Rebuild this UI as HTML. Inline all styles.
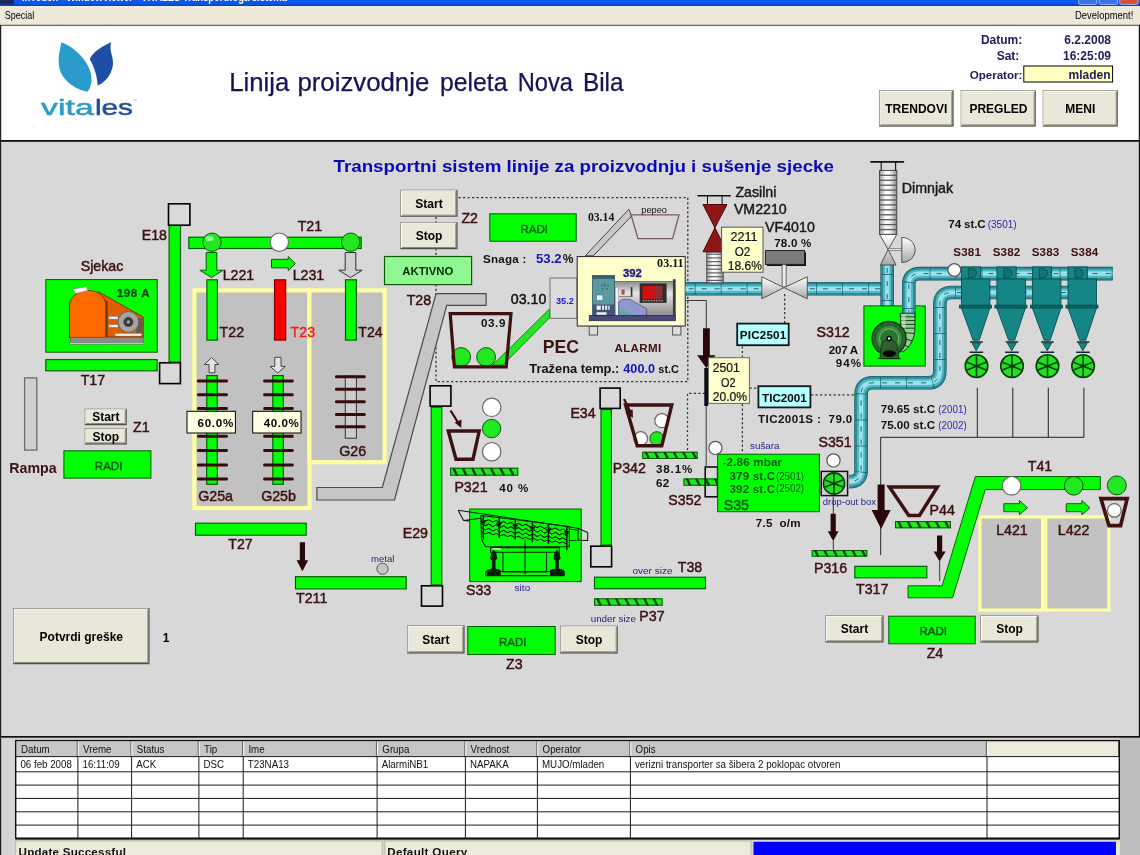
<!DOCTYPE html>
<html><head><meta charset="utf-8"><title>SCADA</title>
<style>
html,body{margin:0;padding:0;background:#d8d8d8;overflow:hidden}
svg{display:block;will-change:transform;font-family:"Liberation Sans",sans-serif}
</style></head><body>
<svg width="1140" height="855" viewBox="0 0 1140 855">
<defs>
<pattern id="hatch" width="7.2" height="8" patternUnits="userSpaceOnUse">
<rect width="7.2" height="8" fill="#22ee22"/>
<path d="M0 0L3.4 8M7.2 0L10.6 8M-7.2 0L-3.8 8" stroke="#0b4a0b" stroke-width="1.7"/>
</pattern>
<linearGradient id="tb" x1="0" y1="0" x2="0" y2="1"><stop offset="0" stop-color="#0a5cf0"/><stop offset="0.6" stop-color="#0a54e4"/><stop offset="1" stop-color="#0a3cc0"/></linearGradient>
<linearGradient id="pipeH" x1="0" y1="0" x2="0" y2="1"><stop offset="0" stop-color="#2a8e98"/><stop offset="0.35" stop-color="#a8ecf4"/><stop offset="0.6" stop-color="#7ad4de"/><stop offset="1" stop-color="#1f7f8a"/></linearGradient>
<linearGradient id="pipeV" x1="0" y1="0" x2="1" y2="0"><stop offset="0" stop-color="#2a8e98"/><stop offset="0.35" stop-color="#a8ecf4"/><stop offset="0.6" stop-color="#7ad4de"/><stop offset="1" stop-color="#1f7f8a"/></linearGradient>
<linearGradient id="corrV" x1="0" y1="0" x2="1" y2="0"><stop offset="0" stop-color="#9a9a9a"/><stop offset="0.35" stop-color="#fff"/><stop offset="0.6" stop-color="#f4f4f4"/><stop offset="1" stop-color="#8a8a8a"/></linearGradient>
<linearGradient id="cyl" x1="0" y1="0" x2="0" y2="1"><stop offset="0" stop-color="#8a8a8a"/><stop offset="0.35" stop-color="#e6e6e6"/><stop offset="1" stop-color="#8c8c8c"/></linearGradient>
<linearGradient id="valveL" x1="0" y1="0" x2="0" y2="1"><stop offset="0" stop-color="#fff"/><stop offset="1" stop-color="#a8a8a8"/></linearGradient>
</defs>

<rect x="0.0" y="0.0" width="1140.0" height="855.0" fill="#d8d8d8" />
<rect x="0.0" y="0.0" width="1140.0" height="6.3" fill="url(#tb)" />
<rect x="0.0" y="0.0" width="14.0" height="4.5" fill="#1a2a58" />
<g clip-path="inset(0)"><text x="22" y="1.4" font-size="12" font-weight="bold" fill="#fff" textLength="265" lengthAdjust="spacingAndGlyphs">InTouch - WindowViewer - VITALES Transportnoga sistema</text></g>
<path d="M1078.6 -1V3Q1078.6 4.4 1080.2 4.4H1095.2Q1096.8 4.4 1096.8 3V-1Z" fill="#3f6ee6" stroke="#9cc0ff" stroke-width="0.9"/>
<path d="M1099.2 -1V3Q1099.2 4.4 1100.8 4.4H1115.8Q1117.4 4.4 1117.4 3V-1Z" fill="#3f6ee6" stroke="#9cc0ff" stroke-width="0.9"/>
<path d="M1119.8 -1V3Q1119.8 4.4 1121.4 4.4H1136.4Q1138.0 4.4 1138.0 3V-1Z" fill="#d8502e" stroke="#9cc0ff" stroke-width="0.9"/>
<rect x="0.0" y="6.3" width="1140.0" height="18.7" fill="#ece9d8" />
<rect x="0.0" y="6.3" width="1140.0" height="1.0" fill="#f8f6ea" />
<text x="4.7" y="18.7" font-size="10.6" fill="#000" textLength="29.6" lengthAdjust="spacingAndGlyphs" >Special</text>
<text x="1133.3" y="18.7" font-size="10.6" fill="#000" text-anchor="end" textLength="58.3" lengthAdjust="spacingAndGlyphs" >Development!</text>
<rect x="0.0" y="25.0" width="1140.0" height="116.0" fill="#ffffff" />
<path d="M0 25.3H1140" stroke="#404040" stroke-width="1"/>
<rect x="0.0" y="140.0" width="1140.0" height="1.8" fill="#101010" />
<rect x="0.0" y="25.0" width="1.2" height="830.0" fill="#202020" />
<rect x="1138.8" y="25.0" width="1.2" height="713.0" fill="#101010" />
<path d="M61.3 42.3C60.5 49 57 58 59.6 69C63 81 76 90 87.5 91.5C93 86 92.5 74 88 66C83 56 72 46 61.3 42.3Z" fill="#2a9ccc"/>
<path d="M111.3 42C104 46 94 50 89.6 59.2C93 64 97 74 97.8 85.6C106 82 112 74 113 64C113.5 56 108.5 50 111.3 42Z" fill="#1d4ea6"/>
<text x="41.1" y="114.9" font-size="22.5" fill="#2a9cc8" textLength="52.6" lengthAdjust="spacingAndGlyphs" stroke="#2a9cc8" stroke-width="0.5" >vita</text>
<text x="94.9" y="114.9" font-size="22.5" fill="#1f4e9c" textLength="38.0" lengthAdjust="spacingAndGlyphs" stroke="#1f4e9c" stroke-width="0.5" >les</text>
<path d="M134 99l3 2m0 -2l-3 2" stroke="#bbb" stroke-width="0.6"/>
<text x="229.2" y="90.5" font-size="25.4" fill="#14145a" textLength="60.1" lengthAdjust="spacingAndGlyphs" stroke="#14145a" stroke-width="0.25" >Linija</text>
<text x="297.4" y="90.5" font-size="25.4" fill="#14145a" textLength="131.9" lengthAdjust="spacingAndGlyphs" stroke="#14145a" stroke-width="0.25" >proizvodnje</text>
<text x="440.0" y="90.5" font-size="25.4" fill="#14145a" textLength="67.4" lengthAdjust="spacingAndGlyphs" stroke="#14145a" stroke-width="0.25" >peleta</text>
<text x="517.7" y="90.5" font-size="25.4" fill="#14145a" textLength="55.3" lengthAdjust="spacingAndGlyphs" stroke="#14145a" stroke-width="0.25" >Nova</text>
<text x="582.9" y="90.5" font-size="25.4" fill="#14145a" textLength="40.6" lengthAdjust="spacingAndGlyphs" stroke="#14145a" stroke-width="0.25" >Bila</text>
<text x="1022.3" y="44.0" font-size="12" fill="#1c1c5c" font-weight="bold" text-anchor="end" >Datum:</text>
<text x="1111.0" y="44.0" font-size="12" fill="#1c1c5c" font-weight="bold" text-anchor="end" >6.2.2008</text>
<text x="1019.3" y="59.6" font-size="12" fill="#1c1c5c" font-weight="bold" text-anchor="end" >Sat:</text>
<text x="1111.0" y="59.6" font-size="12" fill="#1c1c5c" font-weight="bold" text-anchor="end" >16:25:09</text>
<text x="1022.3" y="79.2" font-size="11.6" fill="#1c1c5c" font-weight="bold" text-anchor="end" textLength="52.5" lengthAdjust="spacing" >Operator:</text>
<rect x="1023.8" y="66.0" width="88.8" height="16.0" fill="#ffffc0" stroke="#000" stroke-width="1" />
<text x="1110.5" y="79.4" font-size="12" fill="#1c1c5c" font-weight="bold" text-anchor="end" >mladen</text>
<rect x="879.3" y="90.6" width="74.0" height="35.8" fill="#e8e7d8" />
<path d="M879.3 125.9H952.8V90.6" fill="none" stroke="#404040" stroke-width="1"/>
<path d="M880.3 124.9H951.8V91.6" fill="none" stroke="#8a8a80" stroke-width="1"/>
<path d="M879.8 125.4V91.1H952.3" fill="none" stroke="#ffffff" stroke-width="1"/>
<rect x="879.3" y="90.6" width="74.0" height="35.8" fill="none" stroke="#707068" stroke-width="0.6"/>
<text x="916.3" y="112.8" font-size="12" fill="#000" font-weight="bold" text-anchor="middle" >TRENDOVI</text>
<rect x="961.0" y="90.6" width="74.7" height="35.8" fill="#e8e7d8" />
<path d="M961.0 125.9H1035.2V90.6" fill="none" stroke="#404040" stroke-width="1"/>
<path d="M962.0 124.9H1034.2V91.6" fill="none" stroke="#8a8a80" stroke-width="1"/>
<path d="M961.5 125.4V91.1H1034.7" fill="none" stroke="#ffffff" stroke-width="1"/>
<rect x="961.0" y="90.6" width="74.7" height="35.8" fill="none" stroke="#707068" stroke-width="0.6"/>
<text x="998.4" y="112.8" font-size="12" fill="#000" font-weight="bold" text-anchor="middle" >PREGLED</text>
<rect x="1043.0" y="90.6" width="74.7" height="35.8" fill="#e8e7d8" />
<path d="M1043.0 125.9H1117.2V90.6" fill="none" stroke="#404040" stroke-width="1"/>
<path d="M1044.0 124.9H1116.2V91.6" fill="none" stroke="#8a8a80" stroke-width="1"/>
<path d="M1043.5 125.4V91.1H1116.7" fill="none" stroke="#ffffff" stroke-width="1"/>
<rect x="1043.0" y="90.6" width="74.7" height="35.8" fill="none" stroke="#707068" stroke-width="0.6"/>
<text x="1080.3" y="112.8" font-size="12" fill="#000" font-weight="bold" text-anchor="middle" >MENI</text>
<text x="333.5" y="171.8" font-size="17.3" fill="#0a0ab4" font-weight="bold" textLength="500.5" lengthAdjust="spacingAndGlyphs" >Transportni sistem linije za proizvodnju i sušenje sjecke</text>
<rect x="0.0" y="736.0" width="1140.0" height="2.0" fill="#101010" />
<text x="80.7" y="271.2" font-size="14.2" fill="#3e1010" stroke="#3e1010" stroke-width="0.45" >Sjekac</text>
<rect x="45.8" y="279.6" width="111.4" height="72.6" fill="#00ff00" stroke="#005c00" stroke-width="1" />
<g stroke="#5a2a00" stroke-width="0.8">
<path d="M98 291.5L143.2 317V337H104Z" fill="#e05e00"/>
<path d="M69.5 337.4V306C69.5 297 78 290.4 88 290.4C98 290.4 106 297 106 306V337.4Z" fill="#ff6a00"/>
</g>
<rect x="105.6" y="301.0" width="2.0" height="36.0" fill="#6a3a10" />
<path d="M72.3 289.2L86.6 286.6L87.8 290.6L76 293.6Z" fill="#f4f4f4" stroke="#777" stroke-width="0.5"/>
<rect x="108.8" y="316.3" width="9.2" height="2.8" fill="#f0f0f0" stroke="#777" stroke-width="0.4" />
<rect x="108.8" y="324.7" width="9.2" height="2.6" fill="#f0f0f0" stroke="#777" stroke-width="0.4" />
<rect x="136.0" y="318.0" width="6.6" height="15.0" fill="#6a5a4a" />
<circle cx="128.4" cy="321.9" r="10.4" fill="#a4a4a4" stroke="#555" stroke-width="0.8"/>
<circle cx="128.4" cy="321.9" r="4.6" fill="#3c3c3c" stroke="#222" stroke-width="0.5"/>
<circle cx="128.4" cy="321.9" r="1.6" fill="#aaa" stroke="none" stroke-width="0"/>
<rect x="115.1" y="333.6" width="26.2" height="2.4" fill="#f4f4f4" stroke="#888" stroke-width="0.4" />
<rect x="70.2" y="337.4" width="73.0" height="4.9" fill="#8c8c8c" stroke="#555" stroke-width="0.5" />
<rect x="69.5" y="342.3" width="74.4" height="2.0" fill="#c4c4c4" stroke="#555" stroke-width="0.4" />
<text x="116.9" y="296.9" font-size="11.6" fill="#064a06" font-weight="bold" textLength="32.6" lengthAdjust="spacing" stroke="#064a06" stroke-width="0.3" >198 A</text>
<rect x="45.8" y="359.6" width="111.3" height="11.2" fill="#00ff00" stroke="#005c00" stroke-width="1.15" />
<text x="80.7" y="385.4" font-size="14.2" fill="#3e1010" stroke="#3e1010" stroke-width="0.45" >T17</text>
<rect x="169.1" y="225.5" width="11.4" height="136.5" fill="#00ff00" stroke="#005c00" stroke-width="1.15" />
<rect x="168.5" y="203.8" width="21.4" height="21.4" fill="#d9d9d9" stroke="#000" stroke-width="1.6" />
<rect x="159.6" y="362.8" width="20.8" height="20.8" fill="#d9d9d9" stroke="#000" stroke-width="1.6" />
<text x="141.7" y="240.0" font-size="14.2" fill="#3e1010" stroke="#3e1010" stroke-width="0.45" >E18</text>
<rect x="188.8" y="237.2" width="172.4" height="11.3" fill="#00ff00" stroke="#005c00" stroke-width="1.15" />
<text x="297.7" y="230.6" font-size="14.2" fill="#3e1010" stroke="#3e1010" stroke-width="0.45" >T21</text>
<circle cx="212.0" cy="242.2" r="9.2" fill="#22e822" stroke="#0a5a0a" stroke-width="1"/>
<ellipse cx="209.5" cy="238.5" rx="4" ry="2.6" fill="#b8ffb8" opacity="0.8"/>
<circle cx="279.3" cy="242.2" r="9.2" fill="#ffffff" stroke="#6a6a6a" stroke-width="1.2"/>
<circle cx="350.7" cy="242.2" r="9.2" fill="#22e822" stroke="#0a5a0a" stroke-width="1"/>
<path d="M206.2 252.5H216.8V270.2H223.2L211.5 277.6L199.8 270.2H206.2Z" fill="#00ff00" stroke="#0a5a0a" stroke-width="1"/>
<path d="M271.5 259.3H288.2V256.6L295.4 263.6L288.2 270.6V267.9H271.5Z" fill="#00ff00" stroke="#0a5a0a" stroke-width="1"/>
<path d="M345.2 252.5H355.8V270.2H362.2L350.5 277.6L338.8 270.2H345.2Z" fill="#d0d0d0" stroke="#333" stroke-width="1"/>
<text x="222.7" y="279.8" font-size="14.2" fill="#3e1010" stroke="#3e1010" stroke-width="0.45" >L221</text>
<text x="292.7" y="279.8" font-size="14.2" fill="#3e1010" stroke="#3e1010" stroke-width="0.45" >L231</text>
<rect x="194.4" y="290.4" width="115.2" height="217.7" fill="#c1c1c1" stroke="#ffffa0" stroke-width="4.2" />
<rect x="309.4" y="290.4" width="75.2" height="171.8" fill="#c1c1c1" stroke="#ffffa0" stroke-width="4.2" />
<rect x="206.9" y="279.8" width="10.5" height="60.3" fill="#00ff00" stroke="#005c00" stroke-width="1.15" />
<rect x="274.5" y="279.8" width="11.2" height="60.3" fill="#ff0000" stroke="#7a0000" stroke-width="1.15" />
<rect x="345.5" y="279.8" width="10.9" height="60.3" fill="#00ff00" stroke="#005c00" stroke-width="1.15" />
<text x="219.6" y="337.0" font-size="14.2" fill="#3e1010" stroke="#3e1010" stroke-width="0.45" >T22</text>
<text x="290.6" y="337.0" font-size="14.2" fill="#ff1a1a" stroke="#ff1a1a" stroke-width="0.45" >T23</text>
<text x="358.3" y="337.0" font-size="14.2" fill="#3e1010" stroke="#3e1010" stroke-width="0.45" >T24</text>
<path d="M211.6 357.5L218.8 364.5H214.9V372.8H209.1V364.5H204.4Z" fill="#e4e4e4" stroke="#333" stroke-width="0.9"/>
<path d="M277.7 373L285.4 366.4H281V357.3H274.8V366.4H270Z" fill="#e4e4e4" stroke="#333" stroke-width="0.9"/>
<rect x="206.7" y="375.6" width="10.6" height="108.7" fill="#00ff00" stroke="#005c00" stroke-width="1.15" />
<rect x="197.0" y="379.4" width="30.9" height="3.0" fill="#3a0a0a" rx="1.2"/>
<rect x="197.0" y="393.3" width="30.9" height="3.0" fill="#3a0a0a" rx="1.2"/>
<rect x="197.0" y="407.0" width="30.9" height="3.0" fill="#3a0a0a" rx="1.2"/>
<rect x="197.0" y="434.8" width="30.9" height="3.0" fill="#3a0a0a" rx="1.2"/>
<rect x="197.0" y="448.9" width="30.9" height="3.0" fill="#3a0a0a" rx="1.2"/>
<rect x="197.0" y="463.4" width="30.9" height="3.0" fill="#3a0a0a" rx="1.2"/>
<rect x="197.0" y="477.5" width="30.9" height="3.0" fill="#3a0a0a" rx="1.2"/>
<rect x="272.8" y="375.6" width="10.5" height="108.7" fill="#00ff00" stroke="#005c00" stroke-width="1.15" />
<rect x="263.2" y="379.4" width="30.5" height="3.0" fill="#3a0a0a" rx="1.2"/>
<rect x="263.2" y="393.3" width="30.5" height="3.0" fill="#3a0a0a" rx="1.2"/>
<rect x="263.2" y="407.0" width="30.5" height="3.0" fill="#3a0a0a" rx="1.2"/>
<rect x="263.2" y="434.8" width="30.5" height="3.0" fill="#3a0a0a" rx="1.2"/>
<rect x="263.2" y="448.9" width="30.5" height="3.0" fill="#3a0a0a" rx="1.2"/>
<rect x="263.2" y="463.4" width="30.5" height="3.0" fill="#3a0a0a" rx="1.2"/>
<rect x="263.2" y="477.5" width="30.5" height="3.0" fill="#3a0a0a" rx="1.2"/>
<rect x="345.3" y="376.2" width="11.1" height="62.0" fill="#cdcdcd" stroke="#333" stroke-width="1" />
<rect x="335.0" y="375.2" width="30.7" height="3.0" fill="#3a0a0a" rx="1.2"/>
<rect x="335.0" y="387.7" width="30.7" height="3.0" fill="#3a0a0a" rx="1.2"/>
<rect x="335.0" y="400.3" width="30.7" height="3.0" fill="#3a0a0a" rx="1.2"/>
<rect x="335.0" y="412.9" width="30.7" height="3.0" fill="#3a0a0a" rx="1.2"/>
<rect x="335.0" y="425.3" width="30.7" height="3.0" fill="#3a0a0a" rx="1.2"/>
<rect x="187.0" y="411.3" width="48.4" height="21.7" fill="#ffffe1" stroke="#000" stroke-width="1" />
<text x="197.5" y="427.0" font-size="11.6" fill="#000" font-weight="bold" textLength="35.8" lengthAdjust="spacing" >60.0%</text>
<rect x="252.7" y="411.3" width="48.3" height="21.7" fill="#ffffe1" stroke="#000" stroke-width="1" />
<text x="263.8" y="427.0" font-size="11.6" fill="#000" font-weight="bold" textLength="35.1" lengthAdjust="spacing" >40.0%</text>
<text x="198.3" y="500.9" font-size="14.2" fill="#3e1010" stroke="#3e1010" stroke-width="0.45" >G25a</text>
<text x="261.2" y="500.9" font-size="14.2" fill="#3e1010" stroke="#3e1010" stroke-width="0.45" >G25b</text>
<text x="339.3" y="456.1" font-size="14.2" fill="#3e1010" stroke="#3e1010" stroke-width="0.45" >G26</text>
<rect x="24.6" y="377.9" width="12.2" height="72.2" fill="#d0d0d0" stroke="#6c6c6c" stroke-width="1.3" />
<text x="9.3" y="472.7" font-size="14.2" fill="#3e1010" font-weight="bold" >Rampa</text>
<rect x="85.0" y="409.0" width="41.7" height="16.0" fill="#e8e7d8" />
<path d="M85.0 424.5H126.2V409.0" fill="none" stroke="#404040" stroke-width="1"/>
<path d="M86.0 423.5H125.2V410.0" fill="none" stroke="#8a8a80" stroke-width="1"/>
<path d="M85.5 424.0V409.5H125.7" fill="none" stroke="#ffffff" stroke-width="1"/>
<rect x="85.0" y="409.0" width="41.7" height="16.0" fill="none" stroke="#707068" stroke-width="0.6"/>
<text x="105.8" y="421.3" font-size="12" fill="#000" font-weight="bold" text-anchor="middle" >Start</text>
<rect x="85.0" y="428.3" width="41.7" height="16.0" fill="#e8e7d8" />
<path d="M85.0 443.8H126.2V428.3" fill="none" stroke="#404040" stroke-width="1"/>
<path d="M86.0 442.8H125.2V429.3" fill="none" stroke="#8a8a80" stroke-width="1"/>
<path d="M85.5 443.3V428.8H125.7" fill="none" stroke="#ffffff" stroke-width="1"/>
<rect x="85.0" y="428.3" width="41.7" height="16.0" fill="none" stroke="#707068" stroke-width="0.6"/>
<text x="105.8" y="440.6" font-size="12" fill="#000" font-weight="bold" text-anchor="middle" >Stop</text>
<text x="133.0" y="431.5" font-size="14.2" fill="#3e1010" stroke="#3e1010" stroke-width="0.45" >Z1</text>
<rect x="63.9" y="450.8" width="87.0" height="27.3" fill="#00ff00" stroke="#005c00" stroke-width="1" />
<text x="108.6" y="469.5" font-size="11.8" fill="#0a5a0a" text-anchor="middle" textLength="27.6" lengthAdjust="spacingAndGlyphs" stroke="#0a5a0a" stroke-width="0.45" >RADI</text>
<rect x="195.5" y="523.2" width="110.7" height="12.0" fill="#00ff00" stroke="#005c00" stroke-width="1.15" />
<text x="228.3" y="549.3" font-size="14.2" fill="#3e1010" stroke="#3e1010" stroke-width="0.45" >T27</text>
<path d="M299.8 542.3H305.0V560.3H308.2L302.4 571.3L296.6 560.3H299.8Z" fill="#2a0808"/>
<rect x="295.5" y="576.7" width="110.7" height="12.2" fill="#00ff00" stroke="#005c00" stroke-width="1.15" />
<text x="296.0" y="603.3" font-size="14.2" fill="#3e1010" stroke="#3e1010" stroke-width="0.45" >T211</text>
<text x="370.9" y="561.8" font-size="9.6" fill="#26268e" >metal</text>
<circle cx="382.5" cy="568.8" r="5.6" fill="#c4c4c4" stroke="#555" stroke-width="1"/>
<rect x="13.3" y="608.3" width="136.0" height="55.7" fill="#e8e7d8" />
<path d="M13.3 663.5H148.8V608.3" fill="none" stroke="#404040" stroke-width="1"/>
<path d="M14.3 662.5H147.8V609.3" fill="none" stroke="#8a8a80" stroke-width="1"/>
<path d="M13.8 663.0V608.8H148.3" fill="none" stroke="#ffffff" stroke-width="1"/>
<rect x="13.3" y="608.3" width="136.0" height="55.7" fill="none" stroke="#707068" stroke-width="0.6"/>
<text x="81.3" y="640.5" font-size="12" fill="#000" font-weight="bold" text-anchor="middle" >Potvrdi greške</text>
<text x="162.7" y="642.3" font-size="12" fill="#000" font-weight="bold" >1</text>
<path d="M436 197.5H687.8V381.7H436Z" stroke="#303030" stroke-width="1.25" stroke-dasharray="2.2 2.3" fill="none"/>
<path d="M705 393.4H687.5V452" stroke="#303030" stroke-width="1.25" stroke-dasharray="2.2 2.3" fill="none"/>
<path d="M742.4 404V453" stroke="#303030" stroke-width="1.25" stroke-dasharray="2.2 2.3" fill="none"/>
<path d="M742.4 346.4V357" stroke="#303030" stroke-width="1.25" stroke-dasharray="2.2 2.3" fill="none"/>
<path d="M749.6 388H758" stroke="#303030" stroke-width="1.25" stroke-dasharray="2.2 2.3" fill="none"/>
<path d="M811 394.8H855" stroke="#303030" stroke-width="1.25" stroke-dasharray="2.2 2.3" fill="none"/>
<path d="M784.7 294V323" stroke="#303030" stroke-width="1.25" stroke-dasharray="2.2 2.3" fill="none"/>
<rect x="400.7" y="190.0" width="56.6" height="26.7" fill="#e8e7d8" />
<path d="M400.7 216.2H456.8V190.0" fill="none" stroke="#404040" stroke-width="1"/>
<path d="M401.7 215.2H455.8V191.0" fill="none" stroke="#8a8a80" stroke-width="1"/>
<path d="M401.2 215.7V190.5H456.3" fill="none" stroke="#ffffff" stroke-width="1"/>
<rect x="400.7" y="190.0" width="56.6" height="26.7" fill="none" stroke="#707068" stroke-width="0.6"/>
<text x="429.0" y="207.7" font-size="12" fill="#000" font-weight="bold" text-anchor="middle" >Start</text>
<rect x="400.7" y="222.3" width="56.6" height="26.7" fill="#e8e7d8" />
<path d="M400.7 248.5H456.8V222.3" fill="none" stroke="#404040" stroke-width="1"/>
<path d="M401.7 247.5H455.8V223.3" fill="none" stroke="#8a8a80" stroke-width="1"/>
<path d="M401.2 248.0V222.8H456.3" fill="none" stroke="#ffffff" stroke-width="1"/>
<rect x="400.7" y="222.3" width="56.6" height="26.7" fill="none" stroke="#707068" stroke-width="0.6"/>
<text x="429.0" y="240.0" font-size="12" fill="#000" font-weight="bold" text-anchor="middle" >Stop</text>
<text x="461.4" y="223.2" font-size="14.2" fill="#3e1010" stroke="#3e1010" stroke-width="0.45" >Z2</text>
<rect x="489.8" y="213.8" width="86.4" height="27.4" fill="#00ff00" stroke="#005c00" stroke-width="1" />
<text x="534.2" y="232.5" font-size="11.8" fill="#0a5a0a" text-anchor="middle" textLength="27.6" lengthAdjust="spacingAndGlyphs" stroke="#0a5a0a" stroke-width="0.45" >RADI</text>
<rect x="384.5" y="256.5" width="87.1" height="28.1" fill="#90f890" stroke="#0a5a0a" stroke-width="1.2" />
<text x="427.8" y="274.8" font-size="11.4" fill="#062a06" font-weight="bold" text-anchor="middle" textLength="51.0" lengthAdjust="spacingAndGlyphs" >AKTIVNO</text>
<text x="483.0" y="263.0" font-size="11.6" fill="#111" font-weight="bold" textLength="43.4" lengthAdjust="spacing" >Snaga :</text>
<text x="536.0" y="263.0" font-size="13" fill="#1414b4" font-weight="bold" textLength="25.7" lengthAdjust="spacingAndGlyphs" >53.2</text>
<text x="562.7" y="263.0" font-size="12" fill="#111" font-weight="bold" >%</text>
<path d="M316.9 487.5H382.3L436.1 293.7H486.1V305.4H446.7L394.5 500H316.9Z" fill="#c6c6c6" stroke="#4a4a4a" stroke-width="1.2" stroke-linejoin="miter"/>
<text x="406.7" y="304.7" font-size="14.2" fill="#3e1010" stroke="#3e1010" stroke-width="0.45" >T28</text>
<path d="M492.3 365.2H502.8L549.6 317.7V308.9Z" fill="#22e822" stroke="#0a6a0a" stroke-width="0.8"/>
<circle cx="461.2" cy="357.0" r="9.4" fill="#22e822" stroke="#0a5a0a" stroke-width="1"/>
<circle cx="486.1" cy="357.0" r="9.4" fill="#22e822" stroke="#0a5a0a" stroke-width="1"/>
<path d="M450.2 313.6L454.4 366.8H506.2L511.0 313.6Z" fill="none" stroke="#3e1010" stroke-width="3.2" stroke-linejoin="miter"/>
<text x="480.9" y="326.6" font-size="11.6" fill="#111" font-weight="bold" textLength="24.5" lengthAdjust="spacing" >03.9</text>
<text x="510.8" y="303.8" font-size="14.2" fill="#111" stroke="#111" stroke-width="0.45" >03.10</text>
<rect x="550.0" y="278.0" width="27.0" height="40.3" fill="#dcdcdc" stroke="#707070" stroke-width="1" />
<text x="556.0" y="304.0" font-size="9.4" fill="#2222c8" font-weight="bold" textLength="17.8" lengthAdjust="spacingAndGlyphs" >35.2</text>
<path d="M628.8 209.3L585.3 255.8H593.3L631.6 216Z" fill="#c8c8c8" stroke="#444" stroke-width="1"/>
<path d="M631 214.8L638 238.7H672.6L679 214.8Z" fill="none" stroke="#7a5a5a" stroke-width="1.3"/>
<text x="641.3" y="212.6" font-size="9.6" fill="#111" textLength="25.7" lengthAdjust="spacingAndGlyphs" >pepeo</text>
<text x="587.9" y="221.0" font-size="11.8" fill="#111" font-weight="bold" font-family="Liberation Serif" textLength="26.4" lengthAdjust="spacingAndGlyphs" >03.14</text>
<rect x="577.2" y="256.6" width="108.0" height="69.4" fill="#ffffcc" stroke="#222" stroke-width="1" />
<rect x="589.2" y="326.5" width="8.3" height="8.5" fill="#dcdcdc" stroke="#555" stroke-width="1" />
<rect x="672.6" y="326.5" width="8.3" height="8.5" fill="#dcdcdc" stroke="#555" stroke-width="1" />
<text x="657.1" y="266.8" font-size="11.8" fill="#111" font-weight="bold" font-family="Liberation Serif" textLength="26.5" lengthAdjust="spacingAndGlyphs" >03.11</text>
<text x="622.9" y="276.6" font-size="11.7" fill="#20207c" font-weight="bold" textLength="18.9" lengthAdjust="spacingAndGlyphs" stroke="#20207c" stroke-width="0.35" >392</text>
<rect x="614.5" y="281.3" width="60.5" height="34.2" fill="url(#cyl)" stroke="#555" stroke-width="0.6" />
<rect x="672.9" y="279.2" width="2.7" height="36.4" fill="#3c3c3c" />
<rect x="592.4" y="275.5" width="22.1" height="40.0" fill="#5a98a2" stroke="#2a4a5a" stroke-width="0.7" />
<rect x="592.4" y="275.5" width="22.1" height="3.3" fill="#33606a" />
<rect x="596.6" y="295.0" width="6.3" height="5.3" fill="#e4f4f6" stroke="#3a6a74" stroke-width="0.5" />
<path d="M602 285v1.2M605 285v1.2M608 285v1.2M602.5 288v1.4M607 288v1.4M604.6 282.6v1.2" stroke="#1e4854" stroke-width="1"/>
<rect x="592.8" y="304.5" width="21.4" height="11.0" fill="#45527a" />
<rect x="596.6" y="305.6" width="4.2" height="4.2" fill="#f2f2f2" />
<rect x="602.0" y="305.6" width="2.0" height="4.2" fill="#e8e8e8" />
<rect x="605.0" y="305.6" width="2.2" height="4.2" fill="#e8e8e8" />
<rect x="608.2" y="305.6" width="1.6" height="4.2" fill="#d8d8d8" />
<rect x="596.6" y="312.2" width="10.0" height="2.6" fill="#ececec" />
<rect x="615.5" y="287.1" width="3.2" height="28.4" fill="#f0f0f0" stroke="#777" stroke-width="0.4" />
<rect x="621.5" y="289.5" width="3.1" height="5.1" fill="#a85050" />
<rect x="630.8" y="287.0" width="1.6" height="10.0" fill="#333" />
<path d="M619 296.6H632.5" stroke="#666" stroke-width="0.8"/>
<path d="M618.7 315.5V301.8L622.4 299.2H629.7L646.6 308.7V315.5Z" fill="#9098d0" stroke="#3a3a6a" stroke-width="0.6"/>
<path d="M618.9 315.3V307.6L634 315.3Z" fill="#62a8a8"/>
<rect x="639.7" y="283.4" width="26.9" height="19.5" fill="#2c2c2c" />
<rect x="642.4" y="286.0" width="13.6" height="13.2" fill="#cc1212" />
<rect x="656.0" y="286.0" width="6.4" height="13.2" fill="#8e3030" />
<path d="M643 300.8H663" stroke="#d8b0b0" stroke-width="1" stroke-dasharray="1.6 1"/>
<rect x="589.2" y="315.5" width="86.4" height="5.3" fill="#48487a" stroke="#1a1a2a" stroke-width="0.6" />
<text x="542.7" y="353.3" font-size="19" fill="#3e1010" font-weight="bold" textLength="36.3" lengthAdjust="spacingAndGlyphs" >PEC</text>
<text x="614.5" y="351.7" font-size="11.6" fill="#3e1010" font-weight="bold" textLength="46.7" lengthAdjust="spacing" >ALARMI</text>
<text x="529.3" y="372.7" font-size="12.5" fill="#111" font-weight="bold" textLength="90.0" lengthAdjust="spacingAndGlyphs" >Tražena temp.:</text>
<text x="623.3" y="372.7" font-size="12.7" fill="#1414c8" font-weight="bold" textLength="31.7" lengthAdjust="spacingAndGlyphs" >400.0</text>
<text x="658.3" y="372.7" font-size="11.5" fill="#111" font-weight="bold" textLength="20.7" lengthAdjust="spacingAndGlyphs" >st.C</text>
<rect x="431.2" y="407.2" width="10.6" height="177.8" fill="#00ff00" stroke="#005c00" stroke-width="1.15" />
<rect x="430.1" y="385.8" width="20.8" height="20.3" fill="#d9d9d9" stroke="#000" stroke-width="1.6" />
<rect x="421.5" y="585.8" width="21.0" height="20.3" fill="#d9d9d9" stroke="#000" stroke-width="1.6" />
<text x="402.7" y="538.2" font-size="14.2" fill="#3e1010" stroke="#3e1010" stroke-width="0.45" >E29</text>
<path d="M450.5 410.5L459 424" stroke="#3e1010" stroke-width="2.3" fill="none"/>
<path d="M461.2 428L454.6 422.6L461.6 419.6Z" fill="#3e1010"/>
<path d="M448.3 431.0L456.0 459.2H473.0L479.2 431.0Z" fill="none" stroke="#3e1010" stroke-width="3.4" stroke-linejoin="miter"/>
<circle cx="491.7" cy="407.3" r="9.2" fill="#fff" stroke="#6a6a6a" stroke-width="1.2"/>
<circle cx="491.6" cy="428.6" r="9.2" fill="#22e822" stroke="#0a5a0a" stroke-width="1"/>
<circle cx="491.7" cy="451.7" r="9.2" fill="#fff" stroke="#6a6a6a" stroke-width="1.2"/>
<clipPath id="sc1"><rect x="450.0" y="467.7" width="68.3" height="8.0"/></clipPath>
<rect x="450.0" y="467.7" width="68.3" height="8.0" fill="#1fe81f"/>
<path d="M453.2 467.7l4.0 8.0M462.6 467.7l4.0 8.0M472.0 467.7l4.0 8.0M481.4 467.7l4.0 8.0M490.8 467.7l4.0 8.0M500.2 467.7l4.0 8.0M509.6 467.7l4.0 8.0" stroke="#0b3a0b" stroke-width="2.3" clip-path="url(#sc1)"/>
<rect x="450.5" y="468.2" width="67.3" height="7.0" fill="none" stroke="#0a5a0a" stroke-width="1"/>
<text x="454.4" y="492.4" font-size="14.2" fill="#3e1010" stroke="#3e1010" stroke-width="0.45" >P321</text>
<text x="499.3" y="492.4" font-size="11.6" fill="#111" font-weight="bold" textLength="29.0" lengthAdjust="spacing" >40 %</text>
<rect x="469.7" y="509.0" width="111.5" height="72.6" fill="#00ff00" stroke="#005c00" stroke-width="1" />
<g fill="none" stroke="#042004" stroke-width="1.05" stroke-linejoin="round">
<path d="M458.1 510.2L463.6 520.4L469.7 521M458.1 510.2L578 528.3L587.7 532.6V540.6L578 540.2M463.6 520.4L481 518.2"/>
<path d="M480.8 515.4L569.3 526.5V546.8H485.7L481.5 539.4Z"/>
<path d="M569.3 529L578 530.2M569.3 540.5L578 540.2M578 528.3V540.2"/>
<path d="M481.5 518.7L485.2 521.2L488.9 519.6L492.6 522.1L496.3 520.5L500.0 523.0L503.7 521.5L507.4 523.9L511.1 522.4L514.8 524.9L518.5 523.3L522.2 525.8L525.9 524.3L529.6 526.7L533.3 525.2L537.0 527.6L540.7 526.1L544.4 528.6L548.1 527.0L551.8 529.5L555.5 528.0L559.2 530.4L562.9 528.9L566.6 531.4"/>
<path d="M481.5 522.9L485.2 525.8L488.9 523.8L492.6 526.7L496.3 524.7L500.0 527.6L503.7 525.7L507.4 528.5L511.1 526.6L514.8 529.5L518.5 527.5L522.2 530.4L525.9 528.5L529.6 531.3L533.3 529.4L537.0 532.2L540.7 530.3L544.4 533.2L548.1 531.2L551.8 534.1L555.5 532.2L559.2 535.0L562.9 533.1L566.6 536.0"/>
<path d="M481.5 527.4L485.2 530.1L488.9 528.3L492.6 531.0L496.3 529.2L500.0 531.9L503.7 530.2L507.4 532.8L511.1 531.1L514.8 533.8L518.5 532.0L522.2 534.7L525.9 533.0L529.6 535.6L533.3 533.9L537.0 536.5L540.7 534.8L544.4 537.5L548.1 535.7L551.8 538.4L555.5 536.7L559.2 539.3L562.9 537.6L566.6 540.3"/>
<path d="M481.5 531.6L485.2 533.9L488.9 532.5L492.6 534.8L496.3 533.4L500.0 535.7L503.7 534.4L507.4 536.6L511.1 535.3L514.8 537.6L518.5 536.2L522.2 538.5L525.9 537.2L529.6 539.4L533.3 538.1L537.0 540.3L540.7 539.0L544.4 541.3L548.1 539.9L551.8 542.2L555.5 540.9L559.2 543.1L562.9 541.8L566.6 544.1"/>
<path d="M490.6 547.6H559.4V552.3H490.6ZM502.9 552.3V572H546.5V552.3M525 539.4V574M485.7 571.4H564.3V575.6H485.7Z"/>
</g>
<g fill="#042004">
<path d="M482.5 515.7h1.6v24h-1.6z"/>
<path d="M480.3 520.7h6l-3 5.2z"/>
<path d="M498.4 517.7h1.6v20h-1.6z"/>
<path d="M496.2 522.7h6l-3 5.2z"/>
<path d="M514.4 519.7h1.6v20h-1.6z"/>
<path d="M512.2 524.7h6l-3 5.2z"/>
<path d="M531.6 521.9h1.6v20h-1.6z"/>
<path d="M529.4 526.9h6l-3 5.2z"/>
<path d="M547.6 523.9h1.6v20h-1.6z"/>
<path d="M545.4 528.9h6l-3 5.2z"/>
<path d="M566.0 526.2h1.6v24h-1.6z"/>
<path d="M563.8 531.2h6l-3 5.2z"/>
<path d="M490.1 558.5L491.3 552.5L493.7 549.5L496.1 552.5L497.3 558.5L495.5 560.5V568.5L500.7 570V575H486.7V570L491.9 568.5V560.5Z"/>
<path d="M553.4 558.5L554.6 552.5L557.0 549.5L559.4 552.5L560.6 558.5L558.8 560.5V568.5L564.0 570V575H550.0V570L555.2 568.5V560.5Z"/>
</g>
<path d="M492.5 548.8H501" stroke="#f4f4f4" stroke-width="1.2"/>
<text x="466.0" y="595.1" font-size="14.2" fill="#3e1010" stroke="#3e1010" stroke-width="0.45" >S33</text>
<text x="514.5" y="591.4" font-size="9.6" fill="#26268e" textLength="15.8" lengthAdjust="spacingAndGlyphs" >sito</text>
<rect x="601.0" y="409.5" width="10.4" height="135.6" fill="#00ff00" stroke="#005c00" stroke-width="1.15" />
<rect x="600.1" y="388.1" width="20.1" height="20.3" fill="#d9d9d9" stroke="#000" stroke-width="1.6" />
<rect x="590.8" y="546.2" width="20.8" height="20.6" fill="#d9d9d9" stroke="#000" stroke-width="1.6" />
<text x="570.4" y="417.8" font-size="14.2" fill="#3e1010" stroke="#3e1010" stroke-width="0.45" >E34</text>
<circle cx="661.8" cy="420.7" r="7.0" fill="#fff" stroke="#6a6a6a" stroke-width="1.2"/>
<circle cx="640.7" cy="438.6" r="6.9" fill="#fff" stroke="#6a6a6a" stroke-width="1.2"/>
<circle cx="656.8" cy="438.6" r="6.9" fill="#22e822" stroke="#0a5a0a" stroke-width="1"/>
<path d="M625.6 405.0L637.2 445.8H661.8L671.8 405.0Z" fill="none" stroke="#3e1010" stroke-width="3.4" stroke-linejoin="miter"/>
<path d="M624 399L630.5 412" stroke="#3e1010" stroke-width="2.2" fill="none"/>
<path d="M633 418L625.5 413L632.6 409.3Z" fill="#3e1010"/>
<clipPath id="sc2"><rect x="642.3" y="451.7" width="55.4" height="7.3"/></clipPath>
<rect x="642.3" y="451.7" width="55.4" height="7.3" fill="#1fe81f"/>
<path d="M645.5 451.7l3.7 7.3M654.9 451.7l3.7 7.3M664.3 451.7l3.7 7.3M673.7 451.7l3.7 7.3M683.1 451.7l3.7 7.3M692.5 451.7l3.7 7.3" stroke="#0b3a0b" stroke-width="2.3" clip-path="url(#sc2)"/>
<rect x="642.8" y="452.2" width="54.4" height="6.3" fill="none" stroke="#0a5a0a" stroke-width="1"/>
<text x="612.7" y="472.8" font-size="14.2" fill="#3e1010" stroke="#3e1010" stroke-width="0.45" >P342</text>
<text x="656.0" y="472.6" font-size="11.6" fill="#111" font-weight="bold" textLength="36.3" lengthAdjust="spacing" >38.1%</text>
<text x="656.0" y="486.8" font-size="11.6" fill="#111" font-weight="bold" textLength="13.3" lengthAdjust="spacing" >62</text>
<rect x="704.6" y="467.0" width="12.8" height="29.6" fill="#d9d9d9" />
<clipPath id="sc3"><rect x="683.5" y="478.4" width="33.9" height="7.4"/></clipPath>
<rect x="683.5" y="478.4" width="33.9" height="7.4" fill="#1fe81f"/>
<path d="M686.7 478.4l3.7 7.4M696.1 478.4l3.7 7.4M705.5 478.4l3.7 7.4M714.9 478.4l3.7 7.4" stroke="#0b3a0b" stroke-width="2.3" clip-path="url(#sc3)"/>
<rect x="684.0" y="478.9" width="32.9" height="6.4" fill="none" stroke="#0a5a0a" stroke-width="1"/>
<rect x="705.2" y="467.0" width="12.4" height="29.8" fill="none" stroke="#111" stroke-width="1.6" />
<text x="668.3" y="505.0" font-size="14.2" fill="#3e1010" stroke="#3e1010" stroke-width="0.45" >S352</text>
<rect x="594.5" y="577.2" width="111.0" height="11.5" fill="#00ff00" stroke="#005c00" stroke-width="1.15" />
<clipPath id="sc4"><rect x="594.0" y="598.3" width="68.7" height="7.4"/></clipPath>
<rect x="594.0" y="598.3" width="68.7" height="7.4" fill="#1fe81f"/>
<path d="M597.2 598.3l3.7 7.4M606.6 598.3l3.7 7.4M616.0 598.3l3.7 7.4M625.4 598.3l3.7 7.4M634.8 598.3l3.7 7.4M644.2 598.3l3.7 7.4M653.6 598.3l3.7 7.4" stroke="#0b3a0b" stroke-width="2.3" clip-path="url(#sc4)"/>
<rect x="594.5" y="598.8" width="67.7" height="6.4" fill="none" stroke="#0a5a0a" stroke-width="1"/>
<text x="632.5" y="574.0" font-size="9.6" fill="#26268e" textLength="40.0" lengthAdjust="spacingAndGlyphs" >over size</text>
<text x="677.8" y="572.4" font-size="14.2" fill="#3e1010" stroke="#3e1010" stroke-width="0.45" >T38</text>
<text x="590.7" y="621.7" font-size="9.6" fill="#26268e" textLength="45.3" lengthAdjust="spacingAndGlyphs" >under size</text>
<text x="639.3" y="620.5" font-size="14.2" fill="#3e1010" stroke="#3e1010" stroke-width="0.45" >P37</text>
<rect x="407.3" y="625.7" width="57.0" height="27.6" fill="#e8e7d8" />
<path d="M407.3 652.8H463.8V625.7" fill="none" stroke="#404040" stroke-width="1"/>
<path d="M408.3 651.8H462.8V626.7" fill="none" stroke="#8a8a80" stroke-width="1"/>
<path d="M407.8 652.3V626.2H463.3" fill="none" stroke="#ffffff" stroke-width="1"/>
<rect x="407.3" y="625.7" width="57.0" height="27.6" fill="none" stroke="#707068" stroke-width="0.6"/>
<text x="435.8" y="643.8" font-size="12" fill="#000" font-weight="bold" text-anchor="middle" >Start</text>
<rect x="467.8" y="626.5" width="87.4" height="28.0" fill="#00ff00" stroke="#005c00" stroke-width="1" />
<text x="512.7" y="645.5" font-size="11.8" fill="#0a5a0a" text-anchor="middle" textLength="27.6" lengthAdjust="spacingAndGlyphs" stroke="#0a5a0a" stroke-width="0.45" >RADI</text>
<rect x="560.3" y="626.0" width="57.4" height="27.3" fill="#e8e7d8" />
<path d="M560.3 652.8H617.2V626.0" fill="none" stroke="#404040" stroke-width="1"/>
<path d="M561.3 651.8H616.2V627.0" fill="none" stroke="#8a8a80" stroke-width="1"/>
<path d="M560.8 652.3V626.5H616.7" fill="none" stroke="#ffffff" stroke-width="1"/>
<rect x="560.3" y="626.0" width="57.4" height="27.3" fill="none" stroke="#707068" stroke-width="0.6"/>
<text x="589.0" y="644.0" font-size="12" fill="#000" font-weight="bold" text-anchor="middle" >Stop</text>
<text x="506.0" y="669.3" font-size="14.2" fill="#3e1010" stroke="#3e1010" stroke-width="0.45" >Z3</text>
<path d="M686 300.5H706.3V328.5M706.2 405V467" fill="none" stroke="#3a3a3a" stroke-width="1"/>
<path d="M685.7 288.8H762" fill="none" stroke="#17525a" stroke-width="13.6"/>
<path d="M685.7 288.8H762" fill="none" stroke="#2a8c96" stroke-width="12.4"/>
<path d="M685.7 288.8H762" fill="none" stroke="#54b8c2" stroke-width="8.2"/>
<path d="M685.7 288.8H762" fill="none" stroke="#98e2ec" stroke-width="4.2"/>
<path d="M685.7 288.8H762" fill="none" stroke="#1e5e66" stroke-width="12.4" stroke-dasharray="0.9 25.1" stroke-dashoffset="-9" opacity="0.8"/>
<path d="M685.7 288.8H762" fill="none" stroke="#226a74" stroke-width="1" stroke-dasharray="5 8" stroke-dashoffset="-3"/>
<path d="M807 288.8H887.2" fill="none" stroke="#17525a" stroke-width="13.6"/>
<path d="M807 288.8H887.2" fill="none" stroke="#2a8c96" stroke-width="12.4"/>
<path d="M807 288.8H887.2" fill="none" stroke="#54b8c2" stroke-width="8.2"/>
<path d="M807 288.8H887.2" fill="none" stroke="#98e2ec" stroke-width="4.2"/>
<path d="M807 288.8H887.2" fill="none" stroke="#1e5e66" stroke-width="12.4" stroke-dasharray="0.9 25.1" stroke-dashoffset="-9" opacity="0.8"/>
<path d="M807 288.8H887.2" fill="none" stroke="#226a74" stroke-width="1" stroke-dasharray="5 8" stroke-dashoffset="-3"/>
<path d="M887.2 265V306" fill="none" stroke="#17525a" stroke-width="13.6"/>
<path d="M887.2 265V306" fill="none" stroke="#2a8c96" stroke-width="12.4"/>
<path d="M887.2 265V306" fill="none" stroke="#54b8c2" stroke-width="8.2"/>
<path d="M887.2 265V306" fill="none" stroke="#98e2ec" stroke-width="4.2"/>
<path d="M887.2 265V306" fill="none" stroke="#1e5e66" stroke-width="12.4" stroke-dasharray="0.9 25.1" stroke-dashoffset="-9" opacity="0.8"/>
<path d="M887.2 265V306" fill="none" stroke="#226a74" stroke-width="1" stroke-dasharray="5 8" stroke-dashoffset="-3"/>
<path d="M697.4 195.8H730.8" stroke="#111" stroke-width="1.6"/>
<path d="M707.5 195.8V204.5M722.1 195.8V204.5" stroke="#111" stroke-width="1"/>
<path d="M703 204.5H727L714.9 227.8L727 251.8H703L714.9 227.8Z" fill="#8e1616" stroke="#4a0808" stroke-width="1"/>
<rect x="706.7" y="252.3" width="16.6" height="30.5" fill="url(#corrV)" stroke="#444" stroke-width="0.8" />
<path d="M706.7 254.2H723.3" stroke="#555" stroke-width="1.1"/>
<path d="M706.7 257.9H723.3" stroke="#555" stroke-width="1.1"/>
<path d="M706.7 261.7H723.3" stroke="#555" stroke-width="1.1"/>
<path d="M706.7 265.4H723.3" stroke="#555" stroke-width="1.1"/>
<path d="M706.7 269.2H723.3" stroke="#555" stroke-width="1.1"/>
<path d="M706.7 272.9H723.3" stroke="#555" stroke-width="1.1"/>
<path d="M706.7 276.7H723.3" stroke="#555" stroke-width="1.1"/>
<path d="M706.7 280.4H723.3" stroke="#555" stroke-width="1.1"/>
<text x="735.4" y="196.5" font-size="14.2" fill="#1a1a1a" stroke="#1a1a1a" stroke-width="0.45" >Zasilni</text>
<text x="733.9" y="213.7" font-size="14.2" fill="#1a1a1a" stroke="#1a1a1a" stroke-width="0.45" >VM2210</text>
<rect x="721.6" y="227.2" width="41.4" height="45.0" fill="#ffffcc" stroke="#555" stroke-width="1" />
<text x="730.4" y="241.0" font-size="12.3" fill="#111" textLength="27.1" lengthAdjust="spacingAndGlyphs" stroke="#111" stroke-width="0.2" >2211</text>
<text x="734.7" y="255.8" font-size="12.3" fill="#111" textLength="15.6" lengthAdjust="spacingAndGlyphs" stroke="#111" stroke-width="0.2" >O2</text>
<text x="727.7" y="269.9" font-size="12.3" fill="#111" textLength="34.2" lengthAdjust="spacingAndGlyphs" stroke="#111" stroke-width="0.2" >18.6%</text>
<text x="765.1" y="232.2" font-size="14.2" fill="#1a1a1a" stroke="#1a1a1a" stroke-width="0.45" >VF4010</text>
<text x="774.2" y="247.0" font-size="11.6" fill="#111" font-weight="bold" textLength="37.2" lengthAdjust="spacing" >78.0 %</text>
<rect x="767.0" y="252.2" width="39.0" height="13.8" fill="#111" />
<rect x="765.4" y="250.5" width="39.1" height="13.9" fill="#7c7c7c" stroke="#222" stroke-width="1" />
<rect x="782.1" y="264.6" width="4.0" height="22.4" fill="#ececec" stroke="#444" stroke-width="0.8" />
<path d="M761.8 276.8V298.8L784 287.6Z" fill="url(#valveL)" stroke="#555" stroke-width="1"/>
<path d="M807.3 276.8V298.8L784 287.6Z" fill="url(#valveL)" stroke="#555" stroke-width="1"/>
<rect x="737.2" y="323.6" width="51.5" height="21.6" fill="#b4ffff" stroke="#10181e" stroke-width="1.8" />
<text x="763.0" y="339.0" font-size="11.6" fill="#000" font-weight="bold" text-anchor="middle" textLength="46.5" lengthAdjust="spacing" >PIC2501</text>
<rect x="758.4" y="386.2" width="52.0" height="21.2" fill="#b4ffff" stroke="#10181e" stroke-width="1.8" />
<text x="784.4" y="402.0" font-size="11.6" fill="#000" font-weight="bold" text-anchor="middle" textLength="44.8" lengthAdjust="spacing" >TIC2001</text>
<text x="758.1" y="423.0" font-size="11.6" fill="#111" font-weight="bold" textLength="94.2" lengthAdjust="spacing" xml:space="preserve">TIC2001S :  79.0</text>
<path d="M703.0 328.3H709.8V355.3H715.5L706.4 368.3L697.2 355.3H703.0Z" fill="#2a0808"/>
<rect x="704.3" y="368.0" width="3.9" height="38.0" fill="#0a0a0a" />
<rect x="708.4" y="357.7" width="41.0" height="45.7" fill="#ffffcc" stroke="#666" stroke-width="1" />
<text x="712.7" y="372.1" font-size="12.3" fill="#111" textLength="27.0" lengthAdjust="spacingAndGlyphs" stroke="#111" stroke-width="0.2" >2501</text>
<text x="721.0" y="386.6" font-size="12.3" fill="#111" textLength="14.5" lengthAdjust="spacingAndGlyphs" stroke="#111" stroke-width="0.2" >O2</text>
<text x="712.7" y="401.0" font-size="12.3" fill="#111" textLength="34.5" lengthAdjust="spacingAndGlyphs" stroke="#111" stroke-width="0.2" >20.0%</text>
<path d="M870.3 161.8H904.1" stroke="#111" stroke-width="1.7"/>
<path d="M881.2 162V170.5M895.6 162V170.5" stroke="#111" stroke-width="1.1"/>
<rect x="879.6" y="170.4" width="17.2" height="64.0" fill="url(#corrV)" stroke="#3a3a3a" stroke-width="0.9" />
<path d="M879.6 175.3H896.8" stroke="#5a5a5a" stroke-width="1.3"/>
<path d="M879.6 180.3H896.8" stroke="#5a5a5a" stroke-width="1.3"/>
<path d="M879.6 185.2H896.8" stroke="#5a5a5a" stroke-width="1.3"/>
<path d="M879.6 190.1H896.8" stroke="#5a5a5a" stroke-width="1.3"/>
<path d="M879.6 195.1H896.8" stroke="#5a5a5a" stroke-width="1.3"/>
<path d="M879.6 200.0H896.8" stroke="#5a5a5a" stroke-width="1.3"/>
<path d="M879.6 204.9H896.8" stroke="#5a5a5a" stroke-width="1.3"/>
<path d="M879.6 209.8H896.8" stroke="#5a5a5a" stroke-width="1.3"/>
<path d="M879.6 214.8H896.8" stroke="#5a5a5a" stroke-width="1.3"/>
<path d="M879.6 219.7H896.8" stroke="#5a5a5a" stroke-width="1.3"/>
<path d="M879.6 224.6H896.8" stroke="#5a5a5a" stroke-width="1.3"/>
<path d="M879.6 229.6H896.8" stroke="#5a5a5a" stroke-width="1.3"/>
<path d="M879.6 234.4H896.8L888.2 249.5L896 265H880.4L888.2 249.5Z" fill="url(#valveL)" stroke="#444" stroke-width="0.9"/>
<rect x="888.2" y="248.5" width="13.8" height="2.1" fill="#e8e8e8" stroke="#555" stroke-width="0.6" />
<path d="M901.8 237.4C919.5 238 919.5 262 901.8 262.5Z" fill="url(#valveL)" stroke="#444" stroke-width="0.9"/>
<text x="901.8" y="192.6" font-size="14.2" fill="#1a1a1a" stroke="#1a1a1a" stroke-width="0.45" >Dimnjak</text>
<text x="948.3" y="227.7" font-size="11.6" fill="#111" font-weight="bold" textLength="37.4" lengthAdjust="spacing" >74 st.C</text>
<text x="987.7" y="227.5" font-size="10" fill="#2828b0" textLength="29.0" lengthAdjust="spacingAndGlyphs" >(3501)</text>
<path d="M1069 292.5H952Q939.8 292.5 939.8 304.5V371Q939.8 382.8 928 382.8H873Q861.1 382.8 861.1 394.8V470.5Q861.1 481.7 849 481.7" fill="none" stroke="#17525a" stroke-width="13.6"/>
<path d="M1069 292.5H952Q939.8 292.5 939.8 304.5V371Q939.8 382.8 928 382.8H873Q861.1 382.8 861.1 394.8V470.5Q861.1 481.7 849 481.7" fill="none" stroke="#2a8c96" stroke-width="12.4"/>
<path d="M1069 292.5H952Q939.8 292.5 939.8 304.5V371Q939.8 382.8 928 382.8H873Q861.1 382.8 861.1 394.8V470.5Q861.1 481.7 849 481.7" fill="none" stroke="#54b8c2" stroke-width="8.2"/>
<path d="M1069 292.5H952Q939.8 292.5 939.8 304.5V371Q939.8 382.8 928 382.8H873Q861.1 382.8 861.1 394.8V470.5Q861.1 481.7 849 481.7" fill="none" stroke="#98e2ec" stroke-width="4.2"/>
<path d="M1069 292.5H952Q939.8 292.5 939.8 304.5V371Q939.8 382.8 928 382.8H873Q861.1 382.8 861.1 394.8V470.5Q861.1 481.7 849 481.7" fill="none" stroke="#1e5e66" stroke-width="12.4" stroke-dasharray="0.9 25.1" stroke-dashoffset="-9" opacity="0.8"/>
<path d="M1069 292.5H952Q939.8 292.5 939.8 304.5V371Q939.8 382.8 928 382.8H873Q861.1 382.8 861.1 394.8V470.5Q861.1 481.7 849 481.7" fill="none" stroke="#226a74" stroke-width="1" stroke-dasharray="5 8" stroke-dashoffset="-3"/>
<rect x="863.9" y="305.9" width="61.3" height="60.2" fill="#00ff00" stroke="#005c00" stroke-width="1" />
<path d="M908.8 318V284.5Q908.8 273.6 919.8 273.6H1112.8" fill="none" stroke="#17525a" stroke-width="13.6"/>
<path d="M908.8 318V284.5Q908.8 273.6 919.8 273.6H1112.8" fill="none" stroke="#2a8c96" stroke-width="12.4"/>
<path d="M908.8 318V284.5Q908.8 273.6 919.8 273.6H1112.8" fill="none" stroke="#54b8c2" stroke-width="8.2"/>
<path d="M908.8 318V284.5Q908.8 273.6 919.8 273.6H1112.8" fill="none" stroke="#98e2ec" stroke-width="4.2"/>
<path d="M908.8 318V284.5Q908.8 273.6 919.8 273.6H1112.8" fill="none" stroke="#1e5e66" stroke-width="12.4" stroke-dasharray="0.9 25.1" stroke-dashoffset="-9" opacity="0.8"/>
<path d="M908.8 318V284.5Q908.8 273.6 919.8 273.6H1112.8" fill="none" stroke="#226a74" stroke-width="1" stroke-dasharray="5 8" stroke-dashoffset="-3"/>
<path d="M900.4 313.2H914.9V328C914.9 340 909 348 902.5 352L896.5 345C900 341 901.2 335 900.6 328Z" fill="#8fd08f" stroke="#143c14" stroke-width="1"/>
<path d="M900.4 316.8H914.9" stroke="#143c14" stroke-width="1"/>
<path d="M900.4 320.6H914.9" stroke="#143c14" stroke-width="1"/>
<path d="M900.4 324.4H914.9" stroke="#143c14" stroke-width="1"/>
<path d="M900.4 328.2H914.9" stroke="#143c14" stroke-width="1"/>
<path d="M900.6 332.2L914.4 333.5M900 337.5L912.5 341M898.5 342L908.5 347" stroke="#143c14" stroke-width="1"/>
<path d="M901.5 314.5h4v14h-4z" fill="#c4ecc4" opacity="0.6"/>
<circle cx="889.1" cy="338.5" r="17.0" fill="#24682a" stroke="#0c360c" stroke-width="1.3"/>
<circle cx="889.1" cy="338.5" r="13.4" fill="#3a8a3e" stroke="#1a521a" stroke-width="0.9"/>
<circle cx="889.1" cy="338.5" r="9.6" fill="#2a742c" stroke="#8fd48f" stroke-width="0.7"/>
<path d="M879.8 358.6L881.6 343Q889.1 335.5 896.6 343L899 358.6Z" fill="#2f5f2f" stroke="#0e300e" stroke-width="0.8"/>
<ellipse cx="889.4" cy="353.6" rx="6.6" ry="3.3" fill="#060606"/>
<path d="M877.8 358.6H900.5" stroke="#0e300e" stroke-width="1"/>
<circle cx="889.1" cy="338.5" r="2.7" fill="#0a0a0a" stroke="none" stroke-width="0"/>
<circle cx="889.1" cy="338.5" r="1.2" fill="#fff" stroke="none" stroke-width="0"/>
<text x="816.6" y="337.0" font-size="14.2" fill="#3e1010" stroke="#3e1010" stroke-width="0.45" >S312</text>
<text x="828.8" y="354.0" font-size="11.6" fill="#111" font-weight="bold" textLength="29.4" lengthAdjust="spacing" >207 A</text>
<text x="835.8" y="366.6" font-size="11.6" fill="#111" font-weight="bold" textLength="25.2" lengthAdjust="spacing" >94%</text>
<g fill="#158686" stroke="#0a4e4e" stroke-width="0.9">
<rect x="961.4" y="266.9" width="19.3" height="12.4"/>
<path d="M968.4 268.6h3.5a4.6 4.6 0 0 1 0 9.2h-3.5z" fill="#117474"/>
<rect x="961.4" y="279" width="28.5" height="26.4"/>
<rect x="959.4" y="305.2" width="32" height="2.8" fill="#0e6464"/>
<path d="M961.4 308H989.9L979.2 340.2H973.1Z"/>
<path d="M972.0 343.2H980.6L976.2 350.8Z"/>
</g>
<path d="M970.1 342H982.7M969.6 352.3H983.2" stroke="#0a2a2a" stroke-width="1.4"/>
<circle cx="976.5" cy="366.1" r="11.3" fill="#22e022" stroke="#064006" stroke-width="1.6"/>
<line x1="976.5" y1="355.8" x2="976.5" y2="376.4" stroke="#064006" stroke-width="1.6"/>
<line x1="967.0" y1="362.2" x2="986.0" y2="370.0" stroke="#064006" stroke-width="1.6"/>
<line x1="986.0" y1="362.2" x2="967.0" y2="370.0" stroke="#064006" stroke-width="1.6"/>
<path d="M977.3 387.7V437.3" stroke="#222" stroke-width="1"/>
<g fill="#158686" stroke="#0a4e4e" stroke-width="0.9">
<rect x="996.9" y="266.9" width="19.3" height="12.4"/>
<path d="M1003.9 268.6h3.5a4.6 4.6 0 0 1 0 9.2h-3.5z" fill="#117474"/>
<rect x="996.9" y="279" width="28.5" height="26.4"/>
<rect x="994.9" y="305.2" width="32" height="2.8" fill="#0e6464"/>
<path d="M996.9 308H1025.4L1014.7 340.2H1008.6Z"/>
<path d="M1007.5 343.2H1016.1L1011.7 350.8Z"/>
</g>
<path d="M1005.6 342H1018.2M1005.1 352.3H1018.7" stroke="#0a2a2a" stroke-width="1.4"/>
<circle cx="1012.0" cy="366.1" r="11.3" fill="#22e022" stroke="#064006" stroke-width="1.6"/>
<line x1="1012.0" y1="355.8" x2="1012.0" y2="376.4" stroke="#064006" stroke-width="1.6"/>
<line x1="1002.5" y1="362.2" x2="1021.5" y2="370.0" stroke="#064006" stroke-width="1.6"/>
<line x1="1021.5" y1="362.2" x2="1002.5" y2="370.0" stroke="#064006" stroke-width="1.6"/>
<path d="M1012.8 387.7V437.3" stroke="#222" stroke-width="1"/>
<g fill="#158686" stroke="#0a4e4e" stroke-width="0.9">
<rect x="1032.4" y="266.9" width="19.3" height="12.4"/>
<path d="M1039.4 268.6h3.5a4.6 4.6 0 0 1 0 9.2h-3.5z" fill="#117474"/>
<rect x="1032.4" y="279" width="28.5" height="26.4"/>
<rect x="1030.4" y="305.2" width="32" height="2.8" fill="#0e6464"/>
<path d="M1032.4 308H1060.9L1050.2 340.2H1044.1Z"/>
<path d="M1043.0 343.2H1051.6L1047.2 350.8Z"/>
</g>
<path d="M1041.1 342H1053.7M1040.6 352.3H1054.2" stroke="#0a2a2a" stroke-width="1.4"/>
<circle cx="1047.5" cy="366.1" r="11.3" fill="#22e022" stroke="#064006" stroke-width="1.6"/>
<line x1="1047.5" y1="355.8" x2="1047.5" y2="376.4" stroke="#064006" stroke-width="1.6"/>
<line x1="1038.0" y1="362.2" x2="1057.0" y2="370.0" stroke="#064006" stroke-width="1.6"/>
<line x1="1057.0" y1="362.2" x2="1038.0" y2="370.0" stroke="#064006" stroke-width="1.6"/>
<path d="M1048.3 387.7V437.3" stroke="#222" stroke-width="1"/>
<g fill="#158686" stroke="#0a4e4e" stroke-width="0.9">
<rect x="1068.0" y="266.9" width="19.3" height="12.4"/>
<path d="M1075.0 268.6h3.5a4.6 4.6 0 0 1 0 9.2h-3.5z" fill="#117474"/>
<rect x="1068.0" y="279" width="28.5" height="26.4"/>
<rect x="1066.0" y="305.2" width="32" height="2.8" fill="#0e6464"/>
<path d="M1068.0 308H1096.5L1085.8 340.2H1079.7Z"/>
<path d="M1078.6 343.2H1087.2L1082.8 350.8Z"/>
</g>
<path d="M1076.7 342H1089.3M1076.2 352.3H1089.8" stroke="#0a2a2a" stroke-width="1.4"/>
<circle cx="1083.1" cy="366.1" r="11.3" fill="#22e022" stroke="#064006" stroke-width="1.6"/>
<line x1="1083.1" y1="355.8" x2="1083.1" y2="376.4" stroke="#064006" stroke-width="1.6"/>
<line x1="1073.6" y1="362.2" x2="1092.6" y2="370.0" stroke="#064006" stroke-width="1.6"/>
<line x1="1092.6" y1="362.2" x2="1073.6" y2="370.0" stroke="#064006" stroke-width="1.6"/>
<path d="M1083.9 387.7V437.3" stroke="#222" stroke-width="1"/>
<circle cx="954.3" cy="270.0" r="6.4" fill="#fff" stroke="#555" stroke-width="1.2"/>
<text x="953.3" y="256.0" font-size="11.6" fill="#3e1010" font-weight="bold" textLength="27.6" lengthAdjust="spacing" >S381</text>
<text x="992.7" y="256.0" font-size="11.6" fill="#3e1010" font-weight="bold" textLength="27.6" lengthAdjust="spacing" >S382</text>
<text x="1031.7" y="256.0" font-size="11.6" fill="#3e1010" font-weight="bold" textLength="27.6" lengthAdjust="spacing" >S383</text>
<text x="1070.7" y="256.0" font-size="11.6" fill="#3e1010" font-weight="bold" textLength="27.6" lengthAdjust="spacing" >S384</text>
<path d="M1084 437.3H880.7V555" fill="none" stroke="#222" stroke-width="1"/>
<text x="880.7" y="413.3" font-size="11.6" fill="#111" font-weight="bold" textLength="54.3" lengthAdjust="spacing" >79.65 st.C</text>
<text x="938.3" y="413.1" font-size="10" fill="#2828b0" textLength="28.4" lengthAdjust="spacingAndGlyphs" >(2001)</text>
<text x="880.7" y="429.0" font-size="11.6" fill="#111" font-weight="bold" textLength="54.3" lengthAdjust="spacing" >75.00 st.C</text>
<text x="938.3" y="428.8" font-size="10" fill="#2828b0" textLength="28.4" lengthAdjust="spacingAndGlyphs" >(2002)</text>
<circle cx="715.4" cy="447.9" r="6.6" fill="#fff" stroke="#555" stroke-width="1.2"/>
<text x="750.0" y="449.0" font-size="9.6" fill="#26268e" textLength="29.5" lengthAdjust="spacingAndGlyphs" >sušara</text>
<rect x="717.7" y="454.2" width="101.7" height="57.5" fill="#00ff00" stroke="#005c00" stroke-width="1" />
<text x="722.5" y="466.2" font-size="11.6" fill="#0a5a0a" font-weight="bold" textLength="59.6" lengthAdjust="spacing" >-2.86 mbar</text>
<text x="729.5" y="480.2" font-size="11.6" fill="#0a5a0a" font-weight="bold" textLength="45.6" lengthAdjust="spacing" >379 st.C</text>
<text x="776.0" y="480.0" font-size="10" fill="#0a5a0a" textLength="28.0" lengthAdjust="spacingAndGlyphs" >(2501)</text>
<text x="729.5" y="492.5" font-size="11.6" fill="#0a5a0a" font-weight="bold" textLength="45.6" lengthAdjust="spacing" >392 st.C</text>
<text x="776.0" y="492.3" font-size="10" fill="#0a5a0a" textLength="28.0" lengthAdjust="spacingAndGlyphs" >(2502)</text>
<text x="723.7" y="509.8" font-size="14.2" fill="#0a5a0a" stroke="#0a5a0a" stroke-width="0.45" >S35</text>
<text x="755.8" y="526.6" font-size="11.6" fill="#111" font-weight="bold" textLength="44.7" lengthAdjust="spacing" xml:space="preserve">7.5  o/m</text>
<text x="818.5" y="446.9" font-size="14.2" fill="#3e1010" stroke="#3e1010" stroke-width="0.45" >S351</text>
<circle cx="833.5" cy="460.4" r="6.6" fill="#fff" stroke="#555" stroke-width="1.2"/>
<rect x="821.2" y="471.4" width="26.4" height="24.2" fill="#cfcfcf" stroke="#111" stroke-width="1.5" />
<circle cx="834.0" cy="483.5" r="10.6" fill="#22e022" stroke="#064006" stroke-width="1.6"/>
<line x1="834.0" y1="473.9" x2="834.0" y2="493.1" stroke="#064006" stroke-width="1.6"/>
<line x1="825.1" y1="479.9" x2="842.9" y2="487.1" stroke="#064006" stroke-width="1.6"/>
<line x1="842.9" y1="479.9" x2="825.1" y2="487.1" stroke="#064006" stroke-width="1.6"/>
<text x="822.8" y="504.9" font-size="9.6" fill="#26268e" textLength="53.2" lengthAdjust="spacingAndGlyphs" >drop-out box</text>
<path d="M833.3 496.5V514M833.3 540.5V549.8" stroke="#333" stroke-width="1"/>
<path d="M830.6 513.7H835.8V531.2H838.6L833.2 541.0L827.8 531.2H830.6Z" fill="#2a0808"/>
<clipPath id="sc5"><rect x="811.7" y="550.0" width="55.6" height="6.7"/></clipPath>
<rect x="811.7" y="550.0" width="55.6" height="6.7" fill="#1fe81f"/>
<path d="M814.9 550.0l3.4 6.7M824.3 550.0l3.4 6.7M833.7 550.0l3.4 6.7M843.1 550.0l3.4 6.7M852.5 550.0l3.4 6.7M861.9 550.0l3.4 6.7" stroke="#0b3a0b" stroke-width="2.3" clip-path="url(#sc5)"/>
<rect x="812.2" y="550.5" width="54.6" height="5.7" fill="none" stroke="#0a5a0a" stroke-width="1"/>
<text x="814.0" y="573.0" font-size="14.2" fill="#3e1010" stroke="#3e1010" stroke-width="0.45" >P316</text>
<path d="M877.6 484.4H884.6V510.0H890.6L881.1 529.0L871.6 510.0H877.6Z" fill="#2a0808"/>
<path d="M889.4 487.0L908.8 515.5H919.4L937.4 487.0Z" fill="none" stroke="#3e1010" stroke-width="3.5" stroke-linejoin="miter"/>
<text x="929.6" y="515.2" font-size="14.2" fill="#3e1010" stroke="#3e1010" stroke-width="0.45" >P44</text>
<clipPath id="sc6"><rect x="895.0" y="521.0" width="56.0" height="7.3"/></clipPath>
<rect x="895.0" y="521.0" width="56.0" height="7.3" fill="#1fe81f"/>
<path d="M898.2 521.0l3.6 7.3M907.6 521.0l3.6 7.3M917.0 521.0l3.6 7.3M926.4 521.0l3.6 7.3M935.8 521.0l3.6 7.3M945.2 521.0l3.6 7.3" stroke="#0b3a0b" stroke-width="2.3" clip-path="url(#sc6)"/>
<rect x="895.5" y="521.5" width="55.0" height="6.3" fill="none" stroke="#0a5a0a" stroke-width="1"/>
<path d="M937.0 535.4H942.2V551.6H945.6L939.6 561.4L933.6 551.6H937.0Z" fill="#2a0808"/>
<path d="M939.6 561V581" stroke="#5a5a5a" stroke-width="1.3"/>
<rect x="854.8" y="566.3" width="72.0" height="11.5" fill="#00ff00" stroke="#005c00" stroke-width="1.15" />
<text x="856.0" y="594.3" font-size="14.2" fill="#3e1010" stroke="#3e1010" stroke-width="0.45" >T317</text>
<path d="M908 585.8H942.1L975.4 476.5H1100.4V489.6H985.3L952.6 597.8H908Z" fill="#00ff00" stroke="#006a00" stroke-width="1"/>
<text x="1027.8" y="470.5" font-size="14.2" fill="#3e1010" stroke="#3e1010" stroke-width="0.45" >T41</text>
<circle cx="1011.6" cy="485.8" r="9.3" fill="#fff" stroke="#6a6a6a" stroke-width="1.2"/>
<circle cx="1073.7" cy="485.8" r="9.3" fill="#22e822" stroke="#0a5a0a" stroke-width="1"/>
<circle cx="1116.8" cy="485.4" r="9.5" fill="#22e822" stroke="#0a5a0a" stroke-width="1"/>
<path d="M1003.8 503.7H1019.4V500.5L1027.4 507.7L1019.4 514.9V511.7H1003.8Z" fill="#00ff00" stroke="#0a5a0a" stroke-width="1"/>
<path d="M1066.3 503.7H1081.9V500.5L1089.9 507.7L1081.9 514.9V511.7H1066.3Z" fill="#00ff00" stroke="#0a5a0a" stroke-width="1"/>
<rect x="979.9" y="516.9" width="62.7" height="93.2" fill="#c2c2c2" stroke="#ffffa0" stroke-width="3.2" />
<rect x="1045.8" y="516.9" width="63.1" height="93.2" fill="#c2c2c2" stroke="#ffffa0" stroke-width="3.2" />
<text x="996.2" y="535.2" font-size="14.2" fill="#3e1010" stroke="#3e1010" stroke-width="0.45" >L421</text>
<text x="1057.8" y="535.2" font-size="14.2" fill="#3e1010" stroke="#3e1010" stroke-width="0.45" >L422</text>
<path d="M1100.9 498.6L1109.0 525.6H1120.6L1127.2 498.6Z" fill="none" stroke="#3e1010" stroke-width="3.6" stroke-linejoin="miter"/>
<circle cx="1114.3" cy="510.4" r="6.8" fill="#fff" stroke="#6a6a6a" stroke-width="1.2"/>
<rect x="825.7" y="615.7" width="57.6" height="26.6" fill="#e8e7d8" />
<path d="M825.7 641.8H882.8V615.7" fill="none" stroke="#404040" stroke-width="1"/>
<path d="M826.7 640.8H881.8V616.7" fill="none" stroke="#8a8a80" stroke-width="1"/>
<path d="M826.2 641.3V616.2H882.3" fill="none" stroke="#ffffff" stroke-width="1"/>
<rect x="825.7" y="615.7" width="57.6" height="26.6" fill="none" stroke="#707068" stroke-width="0.6"/>
<text x="854.5" y="633.3" font-size="12" fill="#000" font-weight="bold" text-anchor="middle" >Start</text>
<rect x="888.8" y="616.2" width="86.4" height="27.6" fill="#00ff00" stroke="#005c00" stroke-width="1" />
<text x="933.2" y="635.0" font-size="11.8" fill="#0a5a0a" text-anchor="middle" textLength="27.6" lengthAdjust="spacingAndGlyphs" stroke="#0a5a0a" stroke-width="0.45" >RADI</text>
<rect x="980.7" y="615.7" width="57.6" height="26.6" fill="#e8e7d8" />
<path d="M980.7 641.8H1037.8V615.7" fill="none" stroke="#404040" stroke-width="1"/>
<path d="M981.7 640.8H1036.8V616.7" fill="none" stroke="#8a8a80" stroke-width="1"/>
<path d="M981.2 641.3V616.2H1037.3" fill="none" stroke="#ffffff" stroke-width="1"/>
<rect x="980.7" y="615.7" width="57.6" height="26.6" fill="none" stroke="#707068" stroke-width="0.6"/>
<text x="1009.5" y="633.3" font-size="12" fill="#000" font-weight="bold" text-anchor="middle" >Stop</text>
<text x="926.7" y="658.3" font-size="14.2" fill="#3e1010" stroke="#3e1010" stroke-width="0.45" >Z4</text>
<rect x="0.0" y="737.7" width="1140.0" height="117.3" fill="#d4d4d4" />
<rect x="0.0" y="737.7" width="1.2" height="117.3" fill="#202020" />
<rect x="1120.0" y="738.0" width="20.0" height="117.0" fill="#bebebe" />
<rect x="15.7" y="740.6" width="1103.6" height="98.0" fill="#ffffff" />
<rect x="15.8" y="741.0" width="62.1" height="15.4" fill="#c6c6c6" />
<path d="M16.3 756V741.5H77.4" fill="none" stroke="#f4f4f4" stroke-width="1"/>
<path d="M77.3 741.5V756" fill="none" stroke="#6a6a6a" stroke-width="1.2"/>
<text x="21.0" y="752.6" font-size="10.7" fill="#111" textLength="28.7" lengthAdjust="spacingAndGlyphs" >Datum</text>
<text x="20.4" y="768.4" font-size="10.7" fill="#111" textLength="51.5" lengthAdjust="spacingAndGlyphs" >06 feb 2008</text>
<rect x="77.9" y="741.0" width="53.7" height="15.4" fill="#c6c6c6" />
<path d="M78.4 756V741.5H131.1" fill="none" stroke="#f4f4f4" stroke-width="1"/>
<path d="M131.0 741.5V756" fill="none" stroke="#6a6a6a" stroke-width="1.2"/>
<text x="83.1" y="752.6" font-size="10.7" fill="#111" textLength="28.4" lengthAdjust="spacingAndGlyphs" >Vreme</text>
<text x="82.5" y="768.4" font-size="10.7" fill="#111" textLength="37.2" lengthAdjust="spacingAndGlyphs" >16:11:09</text>
<rect x="131.6" y="741.0" width="67.3" height="15.4" fill="#c6c6c6" />
<path d="M132.1 756V741.5H198.4" fill="none" stroke="#f4f4f4" stroke-width="1"/>
<path d="M198.3 741.5V756" fill="none" stroke="#6a6a6a" stroke-width="1.2"/>
<text x="136.8" y="752.6" font-size="10.7" fill="#111" textLength="27.6" lengthAdjust="spacingAndGlyphs" >Status</text>
<text x="136.2" y="768.4" font-size="10.7" fill="#111" textLength="20.0" lengthAdjust="spacingAndGlyphs" >ACK</text>
<rect x="198.9" y="741.0" width="44.3" height="15.4" fill="#c6c6c6" />
<path d="M199.4 756V741.5H242.7" fill="none" stroke="#f4f4f4" stroke-width="1"/>
<path d="M242.6 741.5V756" fill="none" stroke="#6a6a6a" stroke-width="1.2"/>
<text x="204.1" y="752.6" font-size="10.7" fill="#111" textLength="13.2" lengthAdjust="spacingAndGlyphs" >Tip</text>
<text x="203.5" y="768.4" font-size="10.7" fill="#111" textLength="20.6" lengthAdjust="spacingAndGlyphs" >DSC</text>
<rect x="243.2" y="741.0" width="133.9" height="15.4" fill="#c6c6c6" />
<path d="M243.7 756V741.5H376.6" fill="none" stroke="#f4f4f4" stroke-width="1"/>
<path d="M376.5 741.5V756" fill="none" stroke="#6a6a6a" stroke-width="1.2"/>
<text x="248.4" y="752.6" font-size="10.7" fill="#111" textLength="16.3" lengthAdjust="spacingAndGlyphs" >Ime</text>
<text x="247.8" y="768.4" font-size="10.7" fill="#111" textLength="41.2" lengthAdjust="spacingAndGlyphs" >T23NA13</text>
<rect x="377.1" y="741.0" width="88.3" height="15.4" fill="#c6c6c6" />
<path d="M377.6 756V741.5H464.9" fill="none" stroke="#f4f4f4" stroke-width="1"/>
<path d="M464.8 741.5V756" fill="none" stroke="#6a6a6a" stroke-width="1.2"/>
<text x="382.3" y="752.6" font-size="10.7" fill="#111" textLength="27.1" lengthAdjust="spacingAndGlyphs" >Grupa</text>
<text x="381.7" y="768.4" font-size="10.7" fill="#111" textLength="46.6" lengthAdjust="spacingAndGlyphs" >AlarmiNB1</text>
<rect x="465.4" y="741.0" width="72.0" height="15.4" fill="#c6c6c6" />
<path d="M465.9 756V741.5H536.9" fill="none" stroke="#f4f4f4" stroke-width="1"/>
<path d="M536.8 741.5V756" fill="none" stroke="#6a6a6a" stroke-width="1.2"/>
<text x="470.6" y="752.6" font-size="10.7" fill="#111" textLength="38.7" lengthAdjust="spacingAndGlyphs" >Vrednost</text>
<text x="470.0" y="768.4" font-size="10.7" fill="#111" textLength="38.8" lengthAdjust="spacingAndGlyphs" >NAPAKA</text>
<rect x="537.4" y="741.0" width="93.0" height="15.4" fill="#c6c6c6" />
<path d="M537.9 756V741.5H629.9" fill="none" stroke="#f4f4f4" stroke-width="1"/>
<path d="M629.8 741.5V756" fill="none" stroke="#6a6a6a" stroke-width="1.2"/>
<text x="542.6" y="752.6" font-size="10.7" fill="#111" textLength="38.5" lengthAdjust="spacingAndGlyphs" >Operator</text>
<text x="542.0" y="768.4" font-size="10.7" fill="#111" textLength="62.3" lengthAdjust="spacingAndGlyphs" >MUJO/mladen</text>
<rect x="630.4" y="741.0" width="356.6" height="15.4" fill="#c6c6c6" />
<path d="M630.9 756V741.5H986.5" fill="none" stroke="#f4f4f4" stroke-width="1"/>
<path d="M986.4 741.5V756" fill="none" stroke="#6a6a6a" stroke-width="1.2"/>
<text x="635.6" y="752.6" font-size="10.7" fill="#111" textLength="20.0" lengthAdjust="spacingAndGlyphs" >Opis</text>
<text x="635.0" y="768.4" font-size="10.7" fill="#111" textLength="205.4" lengthAdjust="spacingAndGlyphs" >verizni transporter sa šibera 2 poklopac otvoren</text>
<rect x="987.0" y="741.0" width="132.3" height="15.4" fill="#ecead9" />
<path d="M987.5 756V741.5H1118.8" fill="none" stroke="#f4f4f4" stroke-width="1"/>
<path d="M1118.7 741.5V756" fill="none" stroke="#6a6a6a" stroke-width="1.2"/>
<path d="M15.7 756.6H1119.3" stroke="#1a1a1a" stroke-width="1"/>
<path d="M15.7 771.8H1119.3" stroke="#1a1a1a" stroke-width="1"/>
<path d="M15.7 785.1H1119.3" stroke="#1a1a1a" stroke-width="1"/>
<path d="M15.7 798.4H1119.3" stroke="#1a1a1a" stroke-width="1"/>
<path d="M15.7 811.8H1119.3" stroke="#1a1a1a" stroke-width="1"/>
<path d="M15.7 825.1H1119.3" stroke="#1a1a1a" stroke-width="1"/>
<path d="M77.9 756.6V838.4" stroke="#1a1a1a" stroke-width="1"/>
<path d="M131.6 756.6V838.4" stroke="#1a1a1a" stroke-width="1"/>
<path d="M198.9 756.6V838.4" stroke="#1a1a1a" stroke-width="1"/>
<path d="M243.2 756.6V838.4" stroke="#1a1a1a" stroke-width="1"/>
<path d="M377.1 756.6V838.4" stroke="#1a1a1a" stroke-width="1"/>
<path d="M465.4 756.6V838.4" stroke="#1a1a1a" stroke-width="1"/>
<path d="M537.4 756.6V838.4" stroke="#1a1a1a" stroke-width="1"/>
<path d="M630.4 756.6V838.4" stroke="#1a1a1a" stroke-width="1"/>
<path d="M987.0 756.6V838.4" stroke="#1a1a1a" stroke-width="1"/>
<rect x="15.7" y="740.6" width="1103.6" height="98" fill="none" stroke="#111" stroke-width="1.4"/>
<path d="M15.7 838.6H1119.3" stroke="#111" stroke-width="2"/>
<rect x="15.7" y="841.0" width="366.5" height="15.0" fill="#ecead9" stroke="#b8b6a6" stroke-width="1" />
<rect x="384.8" y="841.0" width="366.2" height="15.0" fill="#ecead9" stroke="#b8b6a6" stroke-width="1" />
<text x="18.6" y="856.1" font-size="11.6" fill="#111" font-weight="bold" textLength="107.4" lengthAdjust="spacing" >Update Successful</text>
<text x="387.2" y="856.1" font-size="11.6" fill="#111" font-weight="bold" textLength="80.0" lengthAdjust="spacing" >Default Query</text>
<rect x="753.5" y="841.8" width="362.5" height="13.2" fill="#0000ff" />
<rect x="1116.0" y="841.8" width="3.5" height="13.2" fill="#ecead9" />
</svg></body></html>
